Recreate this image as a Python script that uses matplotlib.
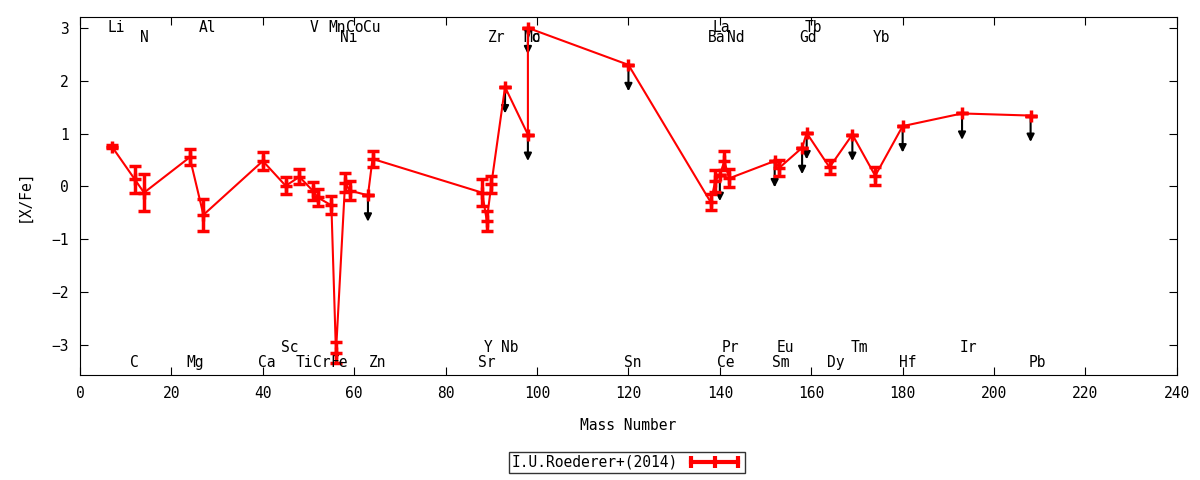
import matplotlib
matplotlib.use('Agg')
import matplotlib.pyplot as plt
from matplotlib.lines import Line2D
import numpy as np

plt.rcParams['font.family'] = ['DejaVu Sans Mono']

# 数据: 元素, 质量数, [X/Fe], 误差, 上限标记
elements = ['Li', 'C', 'N', 'Mg', 'Al', 'Ca', 'Sc', 'Ti', 'V', 'Cr', 'Mn', 'Fe',
            'Ni', 'Co', 'Cu', 'Zn', 'Sr', 'Y', 'Zr', 'Nb', 'Mo', 'Tc', 'Sn',
            'Ba', 'La', 'Ce', 'Pr', 'Nd', 'Sm', 'Eu', 'Gd', 'Tb', 'Dy', 'Tm',
            'Yb', 'Hf', 'Ir', 'Pb']
mass = [7, 12, 14, 24, 27, 40, 45, 48, 51, 52, 55, 56,
        58, 59, 63, 64, 88, 89, 90, 93, 98, 98, 120,
        138, 139, 140, 141, 142, 152, 153, 158, 159, 164, 169,
        174, 180, 193, 208]
xfe = [0.75, 0.13, -0.12, 0.55, -0.54, 0.48, 0.01, 0.18, -0.09, -0.21, -0.36, -3.15,
       0.07, -0.08, -0.17, 0.52, -0.12, -0.65, 0.04, 1.88, 0.98, 3.00, 2.30,
       -0.30, 0.10, 0.22, 0.48, 0.15, 0.48, 0.35, 0.73, 1.01, 0.36, 0.98,
       0.20, 1.14, 1.38, 1.34]
err = [0.03, 0.25, 0.35, 0.15, 0.30, 0.17, 0.16, 0.14, 0.17, 0.16, 0.17, 0.20,
       0.18, 0.18, 0.0, 0.15, 0.25, 0.19, 0.16, 0.0, 0.0, 0.0, 0.0,
       0.15, 0.20, 0.0, 0.18, 0.17, 0.0, 0.15, 0.0, 0.0, 0.13, 0.0,
       0.17, 0.0, 0.0, 0.0]
upper = [0, 0, 0, 0, 0, 0, 0, 0, 0, 0, 0, 0,
         0, 0, 1, 0, 0, 0, 0, 1, 1, 1, 1,
         0, 0, 1, 0, 0, 1, 0, 1, 1, 0, 1,
         0, 1, 1, 1]

# 元素标签 (名字, x位置, y位置)
label_names = ['Li', 'Al', 'V', 'Mn', 'Co', 'Cu', 'La', 'Tb',
               'N', 'Ni', 'Zr', 'Mo', 'Tc', 'Ba', 'Nd', 'Gd', 'Yb',
               'Sc', 'Y', 'Nb', 'Pr', 'Eu', 'Tm', 'Ir',
               'C', 'Mg', 'Ca', 'Ti', 'Cr', 'Fe', 'Zn', 'Sr', 'Sn', 'Ce', 'Sm', 'Dy', 'Hf', 'Pb']
label_x = [8.0, 27.8, 51.2, 56.2, 60.1, 63.9, 140.3, 160.5,
           14.0, 58.9, 91.2, 98.9, 98.9, 139.4, 143.5, 159.3, 175.3,
           45.9, 89.2, 94.1, 142.3, 154.3, 170.5, 194.4,
           11.9, 25.1, 40.9, 49.0, 52.9, 56.6, 65.1, 89.0, 121.0, 141.4, 153.4, 165.4, 181.2, 209.5]
label_y = [3.0] * 8 + [2.81] * 9 + [-3.06] * 7 + [-3.34] * 14

mass = np.array(mass)
xfe = np.array(xfe)
err = np.array(err)
upper = np.array(upper, dtype=bool)

fig = plt.figure(figsize=(12, 4.8), dpi=100)
ax = fig.add_axes([0.0667, 0.219, 0.914, 0.746])

# 上限箭头
for m, v in zip(mass[upper], xfe[upper]):
    ax.annotate('', xy=(m, v - 0.5), xytext=(m, v),
                arrowprops=dict(arrowstyle='-|>', color='black', lw=1.5,
                                mutation_scale=11, shrinkA=0, shrinkB=0),
                zorder=2)

ax.errorbar(mass, xfe, yerr=err, fmt='-', color='red', lw=1.5,
            marker='+', markersize=9, mew=2.5, elinewidth=2.5,
            capsize=4, capthick=2.5, zorder=3)

for name, lx, ly in zip(label_names, label_x, label_y):
    ax.text(lx, ly, name, ha='center', va='center', fontsize=10.5)

ax.set_xlim(0, 240)
ax.set_ylim(-3.57, 3.21)
ax.set_xticks(np.arange(0, 241, 20))
ax.set_yticks([-3, -2, -1, 0, 1, 2, 3])
ax.tick_params(direction='in', top=True, right=True, length=6, labelsize=10.5, pad=8)
ax.set_xlabel('Mass Number', fontsize=10.5, labelpad=12)
ax.set_ylabel('[X/Fe]', fontsize=10.5, labelpad=14)

# 图例 (gnuplot风格的误差棒样本)
key = Line2D([], [], color='red', lw=3, marker='|', markersize=9, mew=3)
leg = fig.legend([key], ['I.U.Roederer+(2014)'], loc='center',
                 bbox_to_anchor=(0.5225, 0.0365), markerfirst=False, numpoints=3,
                 frameon=True, fancybox=False, edgecolor='black', fontsize=10.5,
                 handlelength=3.8, borderpad=0.2, borderaxespad=0, handletextpad=0.6)
leg.get_frame().set_linewidth(1)

fig.savefig('out.png', dpi=100)
